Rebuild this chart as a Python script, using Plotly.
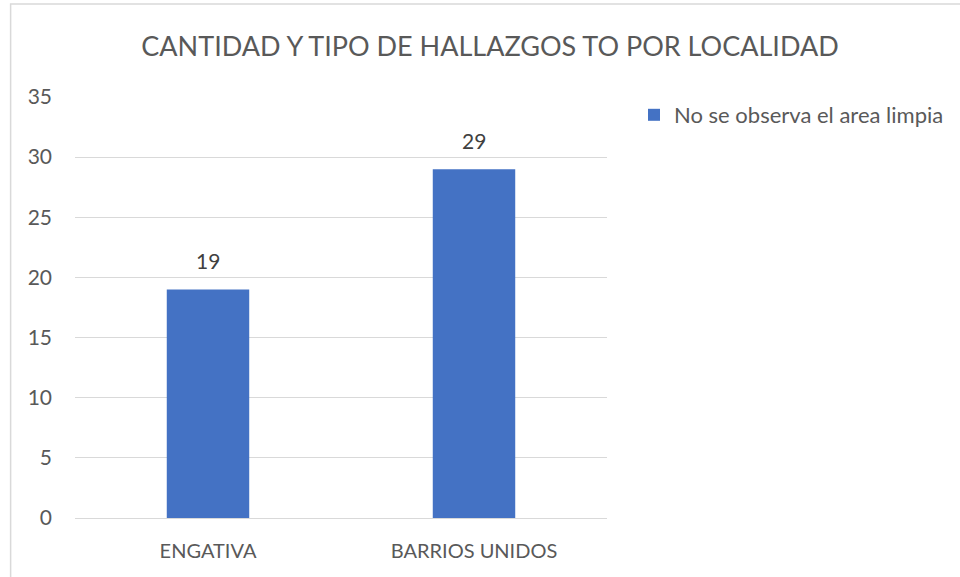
import plotly.graph_objects as go

categories = ["ENGATIVA", "BARRIOS UNIDOS"]
values = [19, 29]
series_name = "No se observa el area limpia"
y_ticks = [0, 5, 10, 15, 20, 25, 30, 35]

L, R, T, B = 75, 352, 97, 59
W, H = 960, 577
pw = W - L - R
ph = H - T - B
FONT = "Lato"
GREY = "#595959"

fig = go.Figure()
fig.add_trace(go.Bar(
    x=categories, y=values, name=series_name,
    marker=dict(color="#4472C4", line=dict(width=0)),
    width=0.31,
    showlegend=True,
))

annotations = [
    dict(x=c, y=v, xref="x", yref="y", text=str(v), showarrow=False,
         yanchor="bottom", yshift=14,
         font=dict(size=21, color="#404040", family=FONT))
    for c, v in zip(categories, values)
]

fig.update_layout(
    width=W, height=H,
    margin=dict(l=L, r=R, t=T, b=B),
    paper_bgcolor="white", plot_bgcolor="white",
    font=dict(family=FONT, color=GREY),
    title=dict(text="CANTIDAD Y TIPO DE HALLAZGOS TO POR LOCALIDAD",
               x=490 / W, xanchor="center", y=1 - 47 / H, yanchor="middle",
               font=dict(size=27, color=GREY, family=FONT)),
    showlegend=True,
    legend=dict(x=(634 - L) / pw, y=(H - B - 115) / ph, xanchor="left", yanchor="middle",
                font=dict(size=22, color=GREY), itemwidth=30,
                bgcolor="rgba(0,0,0,0)"),
    xaxis=dict(showgrid=False, showline=False, ticks="",
               tickfont=dict(size=20, color=GREY), ticklabelstandoff=19),
    yaxis=dict(range=[0, 35], tickvals=y_ticks, showgrid=True, gridcolor="#d9d9d9",
               gridwidth=1, zeroline=True, zerolinecolor="#d9d9d9", zerolinewidth=1,
               showline=False, ticks="", tickfont=dict(size=21, color=GREY),
               ticklabelstandoff=22),
    annotations=annotations,
    shapes=[dict(type="rect", xref="paper", yref="paper",
                 x0=(10.5 - L) / pw, x1=(W + 20 - L) / pw,
                 y0=(H - B - (H + 20)) / ph, y1=(H - B - 4) / ph,
                 line=dict(color="#d9d9d9", width=1.5), fillcolor="rgba(0,0,0,0)",
                 layer="below")],
)

fig.write_html("out.html",
               config={"displayModeBar": False},
               post_script="document.body.style.margin='0';document.body.style.padding='0';")
